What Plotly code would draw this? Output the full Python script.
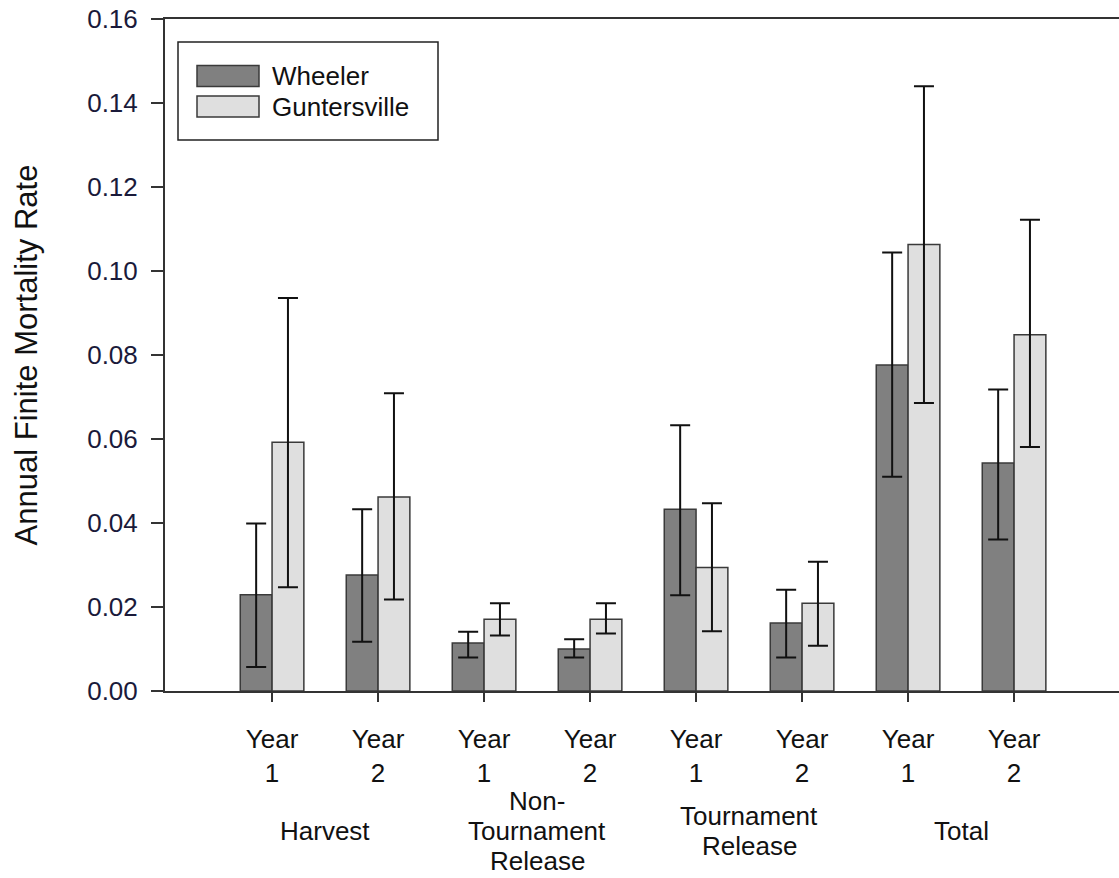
import plotly.graph_objects as go

# Category labels along the x axis and group captions underneath
tick_labels = ["Year<br>1", "Year<br>2", "Year<br>1", "Year<br>2",
               "Year<br>1", "Year<br>2", "Year<br>1", "Year<br>2"]
groups = [["Harvest"], ["Non-", "Tournament", "Release"],
          ["Tournament", "Release"], ["Total"]]
group_centers = [0.5, 2.5, 4.5, 6.5]

series_names = ["Wheeler", "Guntersville"]

# Annual finite mortality estimates with their confidence limits
wheeler = [0.0229, 0.0276, 0.0114, 0.0100, 0.0433, 0.0162, 0.0776, 0.0543]
wheeler_upper = [0.0399, 0.0433, 0.0141, 0.0123, 0.0633, 0.0241, 0.1044, 0.0718]
wheeler_lower = [0.0057, 0.0117, 0.0080, 0.0080, 0.0228, 0.0080, 0.0510, 0.0361]

guntersville = [0.0592, 0.0462, 0.0171, 0.0171, 0.0294, 0.0209, 0.1063, 0.0848]
gunt_upper = [0.0936, 0.0709, 0.0209, 0.0209, 0.0447, 0.0308, 0.1440, 0.1122]
gunt_lower = [0.0247, 0.0218, 0.0132, 0.0137, 0.0142, 0.0108, 0.0686, 0.0581]

y_ticks = [0.00, 0.02, 0.04, 0.06, 0.08, 0.10, 0.12, 0.14, 0.16]

FONT = "Liberation Sans, Arial, sans-serif"
W, H = 1119, 878
ML, MR, MT, MB = 165, 0, 19, 187
PW, PH = W - ML - MR, H - MT - MB

fill_colors = ["#808080", "#dfdfdf"]
edge = "#3a3a3a"
TXT = 26
LINE_STEP = 30  # vertical spacing of stacked caption lines, px


def px_x(p):
    return (p - ML) / PW


def px_y(p):
    return (H - MB - p) / PH


x = list(range(len(tick_labels)))
fig = go.Figure()

for name, vals, up, lo, color in [
    (series_names[0], wheeler, wheeler_upper, wheeler_lower, fill_colors[0]),
    (series_names[1], guntersville, gunt_upper, gunt_lower, fill_colors[1]),
]:
    fig.add_trace(go.Bar(
        x=x, y=vals, name=name, showlegend=False,
        marker=dict(color=color, line=dict(color=edge, width=1.5)),
        error_y=dict(
            type="data", symmetric=False,
            array=[u - v for u, v in zip(up, vals)],
            arrayminus=[v - l for v, l in zip(vals, lo)],
            color="#111111", thickness=2, width=10,
        ),
    ))

# Group captions below the year labels, each centred on y = 831 px
for cx, lines in zip(group_centers, groups):
    n = len(lines)
    for i, line in enumerate(lines):
        cy = 831 + (i - (n - 1) / 2) * LINE_STEP
        fig.add_annotation(x=cx, xref="x", y=px_y(cy), yref="paper",
                           text=line, showarrow=False, yanchor="middle",
                           font=dict(family=FONT, size=TXT, color="#111111"))

# Legend box with swatches
shapes = [
    dict(type="rect", xref="paper", yref="paper",
         x0=px_x(178), x1=px_x(438), y0=px_y(140), y1=px_y(42),
         line=dict(color="#222222", width=1.5), fillcolor="white"),
]
legend_rows = [(65.5, 86.5), (96, 117)]
for (t, b), color, name in zip(legend_rows, fill_colors, series_names):
    shapes.append(dict(type="rect", xref="paper", yref="paper",
                       x0=px_x(197), x1=px_x(259), y0=px_y(b), y1=px_y(t),
                       line=dict(color=edge, width=1.5), fillcolor=color))
    fig.add_annotation(x=px_x(270), xref="paper", y=px_y((t + b) / 2), yref="paper",
                       text=name, showarrow=False, xanchor="left", yanchor="middle",
                       font=dict(family=FONT, size=TXT, color="#111111"))

fig.update_layout(
    width=W, height=H,
    margin=dict(l=ML, r=MR, t=MT, b=MB),
    paper_bgcolor="white", plot_bgcolor="white",
    barmode="group", bargap=0.4, bargroupgap=0,
    shapes=shapes,
    font=dict(family=FONT, color="#111111"),
    xaxis=dict(
        range=[-1.01, 7.99], tickmode="array", tickvals=x, ticktext=tick_labels,
        showline=True, linecolor="#333333", linewidth=2, mirror=True,
        ticks="outside", ticklen=9, tickwidth=2, tickcolor="#333333",
        showgrid=False, zeroline=False,
        tickfont=dict(family=FONT, size=TXT, color="#111111"),
        ticklabelstandoff=15,
    ),
    yaxis=dict(
        range=[0, 0.16], tickmode="array", tickvals=y_ticks,
        ticktext=[f"{v:.2f}" for v in y_ticks],
        showline=True, linecolor="#333333", linewidth=2,
        ticks="outside", ticklen=12, tickwidth=2, tickcolor="#333333",
        showgrid=False, zeroline=False,
        tickfont=dict(family=FONT, size=TXT, color="#1a1a3a"),
        ticklabelstandoff=8,
        title=dict(text="Annual Finite Mortality Rate", standoff=40,
                   font=dict(family=FONT, size=31, color="#111111")),
    ),
)

fig.write_html("out.html")
